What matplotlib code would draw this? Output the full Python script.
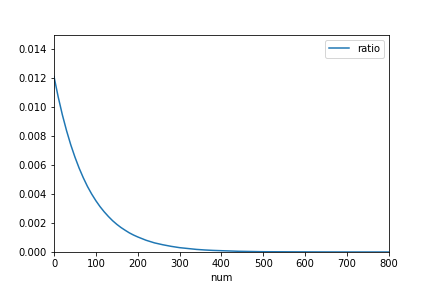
import matplotlib
matplotlib.use("Agg")
import matplotlib.pyplot as plt

# values
num = [0, 10, 20, 30, 40, 50, 60, 70, 80, 90, 100, 110, 120, 130, 140, 150,
       160, 170, 180, 190, 200, 220, 240, 260, 280,
       300, 320, 340, 360, 380, 400, 420, 440, 460, 480, 500, 550, 600, 650,
       700, 750, 800]
ratio = [0.01210, 0.01070, 0.00946, 0.00837, 0.00740, 0.00655, 0.00579,
         0.00512, 0.00452, 0.00400, 0.00354, 0.00313, 0.00277, 0.00245,
         0.00216, 0.00191, 0.00169, 0.00150, 0.00132, 0.00117,
         0.00104, 0.00081, 0.00063, 0.00050,
         0.00039, 0.00030, 0.00024, 0.00018, 0.00014, 0.00011, 0.00009,
         0.00007, 0.00005, 0.00004, 0.00003, 0.00002, 0.000014, 0.000008,
         0.000004, 0.000002, 0.000001, 0.0000006]

fig = plt.figure(figsize=(6, 4), dpi=72)
ax = fig.add_axes([0.125, 0.125, 0.775, 0.755])
ax.plot(num, ratio, color="#1f77b4", label="ratio")
ax.set_xlim(0, 800)
ax.set_ylim(0, 0.015)
ax.set_xlabel("num")
ax.legend(loc="upper right")
fig.savefig("out.png", dpi=72)
